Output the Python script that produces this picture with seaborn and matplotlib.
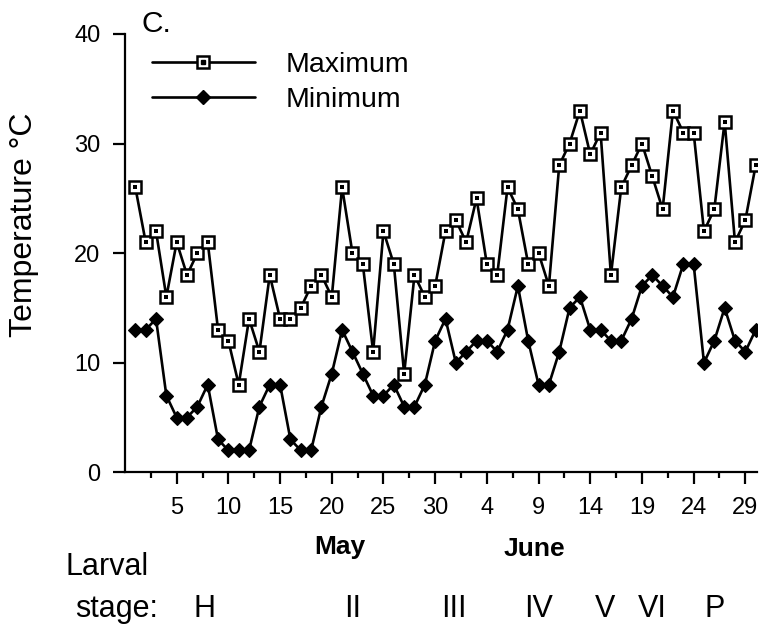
import numpy as np
import pandas as pd
import matplotlib
matplotlib.use("Agg")
import matplotlib.pyplot as plt
import matplotlib.transforms as mtransforms
from matplotlib.lines import Line2D
from matplotlib.legend_handler import HandlerTuple
import seaborn as sns

# ---------------- data ----------------
# day index: 1..31 = May 1..31, 32..61 = June 1..30
day = list(range(1, 62))
max_temp = [26, 21, 22, 16, 21, 18, 20, 21, 13, 12,
            8, 14, 11, 18, 14, 14, 15, 17, 18, 16,
            26, 20, 19, 11, 22, 19, 9, 18, 16, 17, 22,
            23, 21, 25, 19, 18, 26, 24, 19, 20, 17,
            28, 30, 33, 29, 31, 18, 26, 28, 30, 27,
            24, 33, 31, 31, 22, 24, 32, 21, 23, 28]
min_temp = [13, 13, 14, 7, 5, 5, 6, 8, 3, 2,
            2, 2, 6, 8, 8, 3, 2, 2, 6, 9,
            13, 11, 9, 7, 7, 8, 6, 6, 8, 12, 14,
            10, 11, 12, 12, 11, 13, 17, 12, 8, 8,
            11, 15, 16, 13, 13, 12, 12, 14, 17, 18,
            17, 16, 19, 19, 10, 12, 15, 12, 11, 13]
major_tick_days = [5, 10, 15, 20, 25, 30, 35, 40, 45, 50, 55, 60]
major_tick_labels = ["5", "10", "15", "20", "25", "30", "4", "9", "14", "19", "24", "29"]
minor_tick_days = [2.5, 7.5, 12.5, 17.5, 22.5, 27.5, 32.5, 37.5, 42.5, 47.5, 52.5, 57.5]
yticks = [0, 10, 20, 30, 40]
series_labels = ["Maximum", "Minimum"]
month_labels = ["May", "June"]
stage_labels = ["H", "II", "III", "IV", "V", "VI", "P"]
stage_days = [7.7, 22.0, 31.8, 40.0, 46.4, 51.0, 57.0]

df = pd.DataFrame({"day": day, "Maximum": max_temp, "Minimum": min_temp})

# ---------------- style ----------------
sns.set_theme(style="ticks")
plt.rcParams["font.family"] = ["Liberation Sans", "DejaVu Sans"]
plt.rcParams["text.color"] = "black"
plt.rcParams["axes.labelcolor"] = "black"
plt.rcParams["xtick.color"] = "black"
plt.rcParams["ytick.color"] = "black"

W, H = 765, 627
fig = plt.figure(figsize=(W / 100, H / 100), dpi=100)
fig.patch.set_facecolor("white")
ax_l, ax_r, ax_t, ax_b = 125, 756.7, 33.9, 472.3
ax = fig.add_axes([ax_l / W, 1 - ax_b / H, (ax_r - ax_l) / W, (ax_b - ax_t) / H])
ax.set_facecolor("white")

lw = 1.9
d_ms, s_ms, s_mew = 7.4, 8.2, 1.8
sns.lineplot(data=df, x="day", y="Minimum", ax=ax, color="black", lw=lw,
             marker="D", markersize=d_ms, markerfacecolor="black",
             markeredgecolor="black", markeredgewidth=0.8, legend=False)
sns.lineplot(data=df, x="day", y="Maximum", ax=ax, color="black", lw=lw,
             marker="s", markersize=s_ms, markerfacecolor="white",
             markeredgecolor="black", markeredgewidth=s_mew, legend=False)
sns.scatterplot(data=df, x="day", y="Maximum", ax=ax, marker="s", s=5,
                color="black", linewidth=0, legend=False, zorder=5)

ax.set_xlim(0, 61.1)
ax.set_ylim(0, 40)
ax.set_xticks(major_tick_days)
ax.set_xticklabels(major_tick_labels)
ax.set_xticks(minor_tick_days, minor=True)
ax.set_yticks(yticks)
ax.set_yticklabels([str(v) for v in yticks])
ax.tick_params(axis="both", which="major", length=8.6, width=1.6, pad=9,
               labelsize=17, color="black", labelcolor="black", direction="out")
ax.tick_params(axis="x", which="minor", length=4.3, width=1.6, color="black")
ax.set_xlabel("")
ax.set_ylabel("Temperature °C", fontsize=23, color="black")
ax.yaxis.set_label_coords((38.7 - ax_l) / (ax_r - ax_l), (ax_b - 225) / (ax_b - ax_t))
sns.despine(ax=ax)
for s in ["left", "bottom"]:
    ax.spines[s].set_linewidth(1.6)
    ax.spines[s].set_color("black")

# legend
h_max = Line2D([], [], color="black", lw=lw, marker="s", ms=s_ms, mfc="white",
               mec="black", mew=s_mew)
h_dot = Line2D([], [], ls="none", marker="s", ms=2.2, color="black")
h_min = Line2D([], [], color="black", lw=lw, marker="D", ms=d_ms, mfc="black", mec="black")
leg = ax.legend([(h_max, h_dot), h_min], series_labels,
                handler_map={tuple: HandlerTuple(ndivide=1, pad=0)},
                loc="upper left", bbox_to_anchor=(152 / W, 1 - 52 / H),
                bbox_transform=fig.transFigure, frameon=False, fontsize=20.5,
                handlelength=3.6, handletextpad=1.1, labelspacing=0.33,
                borderpad=0, borderaxespad=0, numpoints=1)
for t in leg.get_texts():
    t.set_color("black")

# panel letter
fig.text(141.7 / W, 1 - 31.7 / H, "C.", fontsize=21.5, ha="left", va="baseline")

# month labels
fig.text(340 / W, 1 - 554 / H, month_labels[0], fontsize=19, fontweight="bold",
         ha="center", va="baseline")
fig.text(534 / W, 1 - 555.5 / H, month_labels[1], fontsize=19, fontweight="bold",
         ha="center", va="baseline")

# larval stage row
fig.text(65 / W, 1 - 575 / H, "Larval", fontsize=22, ha="left", va="baseline")
fig.text(75 / W, 1 - 617 / H, "stage:", fontsize=22, ha="left", va="baseline")
trans = mtransforms.blended_transform_factory(ax.transData, fig.transFigure)
for lab, d in zip(stage_labels, stage_days):
    ax.text(d, 1 - 617 / H, lab, transform=trans, fontsize=22, ha="center",
            va="baseline", clip_on=False)

fig.savefig("out.png", dpi=100, facecolor="white")
